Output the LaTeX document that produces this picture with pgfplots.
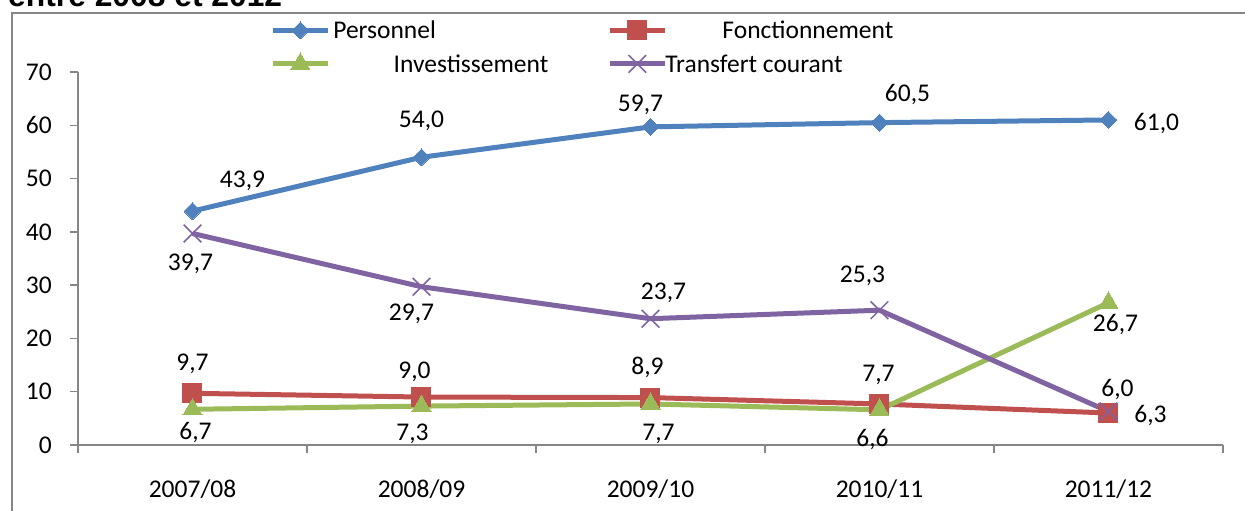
\documentclass[border=0pt]{standalone}
\usepackage{fontspec}
\setmainfont{Carlito}
\newfontfamily\titlefont{Liberation Sans}
\usepackage{pgfplots}
\usepackage{pgfplotstable}
\pgfplotsset{compat=1.18}
\definecolor{cpers}{HTML}{4F81BD}
\definecolor{cfonc}{HTML}{C0504D}
\definecolor{cinv}{HTML}{9BBB59}
\definecolor{ctrans}{HTML}{8064A2}
\definecolor{axisgray}{HTML}{868686}
\newcommand{\lbl}{\fontsize{25.5}{30}\selectfont}

% x = category, y = share (%), lab = printed label, dx/dy = label offset
\pgfplotstableread{
x y lab dx dy
0 43.9 43,9 50 32
1 54.0 54,0 0 38
2 59.7 59,7 -10 24
3 60.5 60,5 28 30
4 61.0 61,0 48 -2
}\personnel
\pgfplotstableread{
x y lab dx dy
0 9.7 9,7 0 31
1 9.0 9,0 -7 27
2 8.9 8,9 -3 32
3 7.7 7,7 -1 31
4 6.0 6,0 9 25
}\fonction
\pgfplotstableread{
x y lab dx dy
0 6.7 6,7 3 -22
1 7.3 7,3 -9 -26
2 7.7 7,7 8 -28
3 6.6 6,6 -7 -28
4 26.7 26,7 7 -20
}\invest
\pgfplotstableread{
x y lab dx dy
0 39.7 39,7 -2 -29
1 29.7 29,7 -10 -25
2 23.7 23,7 13 27
3 25.3 25,3 -17 36
4 6.3 6,3 42 -2
}\transfert

\begin{document}
\begin{tikzpicture}
\useasboundingbox (0,0) rectangle (1245pt,511pt);
\clip (0,0) rectangle (1245pt,511pt);
\draw[axisgray, line width=2pt] (12pt,-10pt) -- (12pt,498pt) -- (1260pt,498pt);
\node[anchor=base west, inner sep=0pt, font={\titlefont\bfseries\fontsize{31.8}{36}\selectfont}] at (8pt,504.5pt) {entre 2008 et 2012};
\begin{axis}[
at={(78pt,66pt)},
anchor=south west,
scale only axis,
width=1145pt,
height=373pt,
xmin=-0.5, xmax=4.5,
ymin=0, ymax=70,
clip=false,
axis lines*=left,
axis line style={draw=axisgray, line width=1.5pt},
every tick/.style={draw=axisgray, line width=1.5pt},
tick align=outside,
major tick length=8pt,
xtick={-0.5,0.5,1.5,2.5,3.5,4.5},
xticklabels={},
extra x ticks={0,1,2,3,4},
extra x tick labels={2007/08,2008/09,2009/10,2010/11,2011/12},
extra x tick style={major tick length=0pt},
ytick={0,10,...,70},
/pgf/number format/assume math mode=true,
tick label style={font=\lbl, inner sep=0pt},
yticklabel style={anchor=east, xshift=-18pt},
xticklabel style={anchor=north, yshift=-35pt},
every axis plot/.append style={line width=5pt},
nodes near coords,
point meta=explicit symbolic,
visualization depends on={\thisrow{dx}\as\dx},
visualization depends on={\thisrow{dy}\as\dy},
every node near coord/.style={font=\lbl, text=black, anchor=center, inner sep=0pt, text depth=0pt, xshift=\dx pt, yshift=\dy pt},
legend columns=2,
legend image code/.code={\draw[mark repeat=2,mark phase=2,#1] plot coordinates {(0pt,0pt) (27.5pt,0pt) (55pt,0pt)};},
legend style={at={(0.168,1.137)}, anchor=north west, draw=none, fill=none, inner sep=0pt, outer sep=0pt, font=\lbl,
  nodes={inner sep=0pt, text height=17pt, text depth=0pt}, row sep=13pt,
  /tikz/column 1/.style={column sep=3pt},
  /tikz/column 2/.style={column sep=59pt},
  /tikz/column 3/.style={column sep=-2pt}},
]
\addplot[color=cpers, mark=square*, mark size=6pt, mark options={rotate=45, line width=0pt}] table[x=x, y=y, meta=lab] {\personnel};
\addlegendentry{\makebox[215pt][l]{Personnel}}
\addplot[color=cfonc, mark=square*, mark size=9.5pt, mark options={line width=0pt}] table[x=x, y=y, meta=lab] {\fonction};
\addlegendentry{\makebox[228pt][r]{Fonctionnement}}
\addplot[color=cinv, mark=triangle*, mark size=11pt, mark options={line width=0pt}] table[x=x, y=y, meta=lab] {\invest};
\addlegendentry{\makebox[215pt][r]{Investissement}}
\addplot[color=ctrans, mark=x, mark size=12.5pt, mark options={line width=1.5pt}] table[x=x, y=y, meta=lab] {\transfert};
\addlegendentry{\makebox[228pt][l]{Transfert courant}}
\end{axis}
\end{tikzpicture}
\end{document}
